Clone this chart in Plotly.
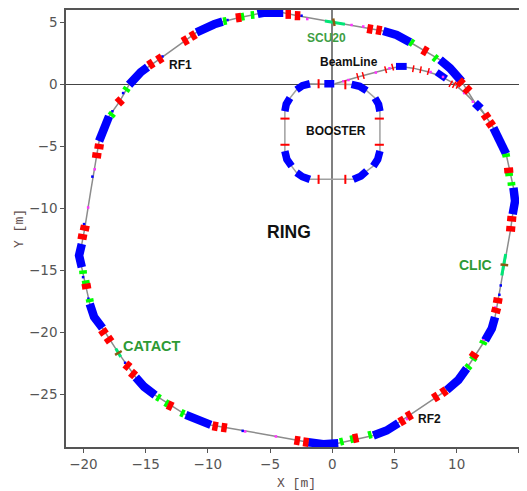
import plotly.graph_objects as go

# Ring lattice path (closed)
ring_x = [-18.74,-18.53,-18.26,-17.94,-17.08,-16.33,-15.92,-15.39,-14.85,-13.86,-11.82,-10.91,-10.16,-9.49,-8.82,-7.53,-6.0,-5.55,-3.94,-2.79,0.13,3.03,4.1,5.17,6.25,8.66,9.46,10.40,11.47,11.93,12.95,13.49,13.97,14.56,14.69,14.5,14.34,13.83,13.3,13.08,12.82,12.28,10.8,10.13,9.2,6.19,5.31,4.37,3.3,0.48,-0.72,-1.93,-4.48,-7.08,-9.76,-10.97,-11.77,-14.24,-15.12,-15.79,-17.19,-18.47,-19.14,-19.49,-20.03,-20.13,-20.35,-20.13,-19.89,-19.41,-18.74]
ring_y = [-4.58,-3.91,-3.11,-2.57,-1.37,-0.03,0.51,0.99,1.39,2.06,3.53,4.20,4.58,4.85,5.06,5.38,5.68,5.78,5.78,5.54,5.01,4.47,4.31,3.99,3.40,1.98,1.31,0.24,-1.5,-1.95,-3.5,-4.58,-5.6,-8.33,-9.4,-10.47,-11.65,-14.56,-17.43,-18.77,-19.7,-20.64,-22.92,-23.85,-24.66,-26.72,-27.33,-27.92,-28.32,-28.94,-29.02,-28.86,-28.4,-27.95,-27.47,-27.07,-26.66,-25.06,-24.39,-23.64,-21.66,-19.65,-18.77,-17.7,-15.15,-14.75,-13.81,-12.88,-11.59,-8.59,-4.58]

# Ring dipole arcs
ring_bend_x = [[-18.74,-18.53,-18.26,-17.94],[-16.33,-15.92,-15.39,-14.85],[-10.91,-10.16,-9.49,-8.82],[-6.0,-5.55,-3.94],[4.1,5.17,6.25],[8.66,9.46,10.40],[11.47,11.93],[12.95,13.49,13.97],[14.56,14.69,14.5],[13.08,12.82,12.28],[10.8,10.13,9.2],[5.31,4.37,3.3],[0.48,-0.72,-1.93],[-9.76,-10.97,-11.77],[-14.24,-15.12,-15.79],[-18.47,-19.14,-19.49],[-20.13,-20.35,-20.13]]
ring_bend_y = [[-4.58,-3.91,-3.11,-2.57],[-0.03,0.51,0.99,1.39],[4.20,4.58,4.85,5.06],[5.68,5.78,5.78],[4.31,3.99,3.40],[1.98,1.31,0.24],[-1.5,-1.95],[-3.5,-4.58,-5.6],[-8.33,-9.4,-10.47],[-18.77,-19.7,-20.64],[-22.92,-23.85,-24.66],[-27.33,-27.92,-28.32],[-28.94,-29.02,-28.86],[-27.47,-27.07,-26.66],[-25.06,-24.39,-23.64],[-19.65,-18.77,-17.7],[-14.75,-13.81,-12.88]]

# Ring quadrupoles (red)
quad_x = [-18.74,-18.93,-17.08,-14.58,-13.86,-11.82,-11.18,-7.53,-19.89,-20.08,-3.54,-2.79,3.03,3.75,7.45,10.32,10.86,12.36,12.73,14.18,14.42,14.34,13.3,13.16,11.39,8.98,8.31,6.19,5.6,1.88,-2.12,-2.82,-8.69,-9.41,-13.03,-16.01,-16.46,-17.94,-18.39,-19.76]
quad_y = [-5.01,-5.73,-1.37,1.63,2.06,3.53,3.94,5.38,-11.59,-12.29,5.65,5.54,4.47,4.36,2.70,0.16,-0.43,-2.57,-3.19,-6.93,-10.84,-11.65,-17.43,-18.23,-21.85,-24.79,-25.22,-26.72,-27.15,-28.54,-28.86,-28.73,-27.68,-27.57,-25.92,-23.37,-22.70,-20.59,-19.97,-16.28]
quad_tilt = [8,8,45,58,58,60,60,82,12,10,90,92,100,100,120,135,135,145,145,175,5,5,10,15,35,55,58,60,60,78,97,99,98,100,115,130,130,145,145,170]

# Ring sextupoles (green)
sext_x = [-17.72,-16.54,-8.63,-7.21,-6.41,6.38,8.28,13.97,14.21,14.4,-20.03,-19.81,-19.49,-13.97,-13.3,-12.04,0.75,1.58,3.03,10.94,11.34,12.14]
sext_y = [-2.44,-0.40,5.11,5.46,5.6,3.37,2.12,-5.73,-7.26,-8.03,-15.15,-15.95,-17.43,-25.27,-25.73,-26.53,-28.81,-28.62,-28.27,-22.78,-22.11,-20.83]
sext_tilt = [40,35,80,80,85,125,130,170,175,175,175,170,170,120,120,115,75,78,75,40,35,25]

# Insertion devices
insert_x = [[-0.59,1.02],[13.94,13.62],[-17.4,-17.0]]
insert_y = [[5.11,4.85],[-13.68,-15.42],[-21.31,-21.98]]
device_x = [0.13,13.83,-17.19]
device_y = [5.01,-14.56,-21.66]
device_tilt = [80,5,150]

# Small correctors and monitors
blue_dot_x = [-19.95,-19.28,-17.67,-16.81,-13.65,-8.42,-2.47,13.54,13.43,-7.2,-16.65,-20.03,-19.6]
blue_dot_y = [-11.27,-7.44,-2.17,-0.7,2.25,5.19,5.54,-16.22,-16.97,-27.95,-22.46,-15.55,-17.29]
pink_dot_x = [-19.62,-19.09,-2.01,1.55,2.49,-4.53,-7.0,12.14,10.94,6.0,8.9,13.1]
pink_dot_y = [-9.93,-6.85,5.27,4.79,4.67,-28.4,-28.0,-20.64,-22.65,-27.0,-24.6,-18.0]

# Booster
boost_x = [-1.8,1.55,2.76,3.43,3.83,3.83,3.3,2.76,1.69,-1.8,-2.87,-3.27,-3.81,-3.81,-3.4,-2.87,-1.8]
boost_y = [0.05,0,-0.51,-1.1,-2.17,-5.38,-6.59,-6.99,-7.66,-7.66,-7.12,-6.59,-5.38,-2.17,-1.1,-0.43,0.05]
boost_bend_x = [[-2.87,-2.4,-1.8],[-0.64,0.16],[1.55,2.2,2.76],[3.43,3.72,3.83],[3.83,3.65,3.3],[2.76,2.3,1.69],[-1.8,-2.4,-2.87],[-3.27,-3.65,-3.81],[-3.81,-3.7,-3.4]]
boost_bend_y = [[-0.43,-0.1,0.05],[0.05,0.05],[0,-0.15,-0.51],[-1.1,-1.6,-2.17],[-5.38,-6.05,-6.59],[-6.99,-7.4,-7.66],[-7.66,-7.45,-7.12],[-6.59,-6.05,-5.38],[-2.17,-1.6,-1.1]]
boost_quad_x = [-1.1,1.05,-3.8,-3.8,3.78,3.78,-1.1,1.05]
boost_quad_y = [0.05,-0.03,-2.76,-4.87,-2.76,-4.87,-7.66,-7.66]
boost_quad_tilt = [90,90,0,0,0,0,90,90]

# Beam line
beam_x = [0.2,2.2,4.25,5.4,6.5,7.6,8.6,9.73,10.8,11.6,12.36]
beam_y = [0.05,0.64,1.18,1.45,1.31,1.04,0.72,0.1,-0.83,-1.64,-2.57]
beam_bend_x = [[5.12,5.98],[8.39,9.14]]
beam_bend_y = [[1.45,1.45],[0.99,0.46]]
beam_quad_x = [2.04,2.49,4.29,4.85,6.51,7.1,7.72,9.52,9.8,10.1]
beam_quad_y = [0.64,0.72,1.18,1.39,1.26,1.18,1.04,0.05,-0.03,-0.1]
beam_quad_tilt = [75,75,75,75,100,100,105,120,120,120]
beam_dot_x = [0.9,1.3,3.5,4.6,7.9,8.9,10.6,11.3]
beam_dot_y = [0.25,0.35,0.95,1.3,1.0,0.6,-0.7,-1.4]

# Labels
label_text = ["RF1","SCU20","BeamLine","BOOSTER","RING","CLIC","CATACT","RF2"]
label_x = [-12.19,-0.5,1.37,0.27,-3.45,11.54,-14.52,7.8]
label_y = [1.6,3.78,1.77,-3.78,-11.9,-14.54,-21.12,-27.0]
label_color = ["#111111","#3d9e44","#111111","#111111","#111111","#2e9a35","#2e9a35","#111111"]
label_size = [12,12,12,12,17.5,14,14.5,12]

fig = go.Figure()

def path(x, y, color, width):
    fig.add_trace(go.Scatter(x=x, y=y, mode="lines", line=dict(color=color, width=width), hoverinfo="skip"))

def bars(x, y, tilt, color, size, width):
    fig.add_trace(go.Scatter(x=x, y=y, mode="markers", hoverinfo="skip",
        marker=dict(symbol="line-ew", size=size, angle=tilt, line=dict(color=color, width=width))))

def dots(x, y, color, size):
    fig.add_trace(go.Scatter(x=x, y=y, mode="markers", hoverinfo="skip", marker=dict(symbol="square", size=size, color=color)))

path(ring_x, ring_y, "#8c8c8c", 1.5)
path(boost_x, boost_y, "#a0a0a0", 1.5)
path(beam_x, beam_y, "#8c8c8c", 1.5)
for xs, ys in zip(ring_bend_x, ring_bend_y):
    path(xs, ys, "#0000ff", 8.5)
for xs, ys in zip(boost_bend_x, boost_bend_y):
    path(xs, ys, "#0000ff", 7.5)
for xs, ys in zip(beam_bend_x, beam_bend_y):
    path(xs, ys, "#0000ff", 7)
for xs, ys in zip(insert_x, insert_y):
    path(xs, ys, "#00e676", 3)
dots(blue_dot_x, blue_dot_y, "#0000ff", 2.5)
dots(pink_dot_x, pink_dot_y, "#ff33ff", 2.5)
dots(beam_dot_x, beam_dot_y, "#ff33ff", 2.5)
bars(sext_x, sext_y, sext_tilt, "#00ff00", 5.5, 3.5)
bars(quad_x, quad_y, quad_tilt, "#ff0000", 6.5, 5.5)
bars(boost_quad_x, boost_quad_y, boost_quad_tilt, "#ff0000", 6.5, 2)
bars(beam_quad_x, beam_quad_y, beam_quad_tilt, "#ff0000", 5, 1.5)
bars(device_x, device_y, device_tilt, "#8b5a14", 5.5, 2.5)

for t, x, y, c, s in zip(label_text, label_x, label_y, label_color, label_size):
    fig.add_annotation(x=x, y=y, text=f"<b>{t}</b>", showarrow=False, xanchor="center", yanchor="middle",
                       font=dict(family="Liberation Sans", size=s, color=c))

axis_font = dict(family="DejaVu Sans", size=13.5, color="#555555")
title_font = dict(family="Liberation Mono", size=13, color="#5f5050")
fig.update_layout(
    width=519, height=483, showlegend=False, paper_bgcolor="white", plot_bgcolor="white",
    margin=dict(l=58, r=0, t=0, b=44),
    xaxis=dict(range=[-21.4, 15.65], tickvals=[-20,-15,-10,-5,0,5,10,15], showgrid=False,
               zeroline=True, zerolinecolor="#808080", zerolinewidth=2,
               showline=True, linecolor="#555555", linewidth=1.5, mirror=True,
               ticks="outside", ticklen=4, tickcolor="#555555", tickfont=axis_font,
               title=dict(text="X [m]", font=title_font, standoff=8)),
    yaxis=dict(range=[-29.25, 6.0], tickvals=[5,0,-5,-10,-15,-20,-25], showgrid=False,
               zeroline=True, zerolinecolor="#444444", zerolinewidth=1,
               showline=True, linecolor="#555555", linewidth=1.5,
               ticks="outside", ticklen=4, tickcolor="#555555", tickfont=axis_font,
               title=dict(text="Y [m]", font=title_font, standoff=2)),
)
fig.write_html("out.html")
